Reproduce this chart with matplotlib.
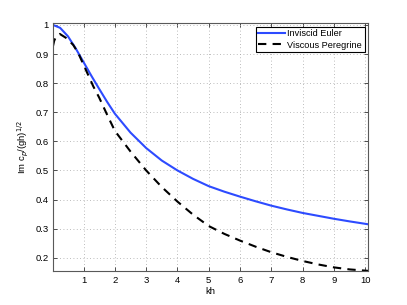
import matplotlib
matplotlib.use("Agg")
import matplotlib.pyplot as plt

plt.rcParams['font.family'] = ['Liberation Sans', 'DejaVu Sans']

# Data
kh_euler = [0.02, 0.25, 0.5, 0.75, 1.0, 1.25, 1.5, 1.75, 2.0, 2.5, 3.0, 3.5, 4.0,
            4.5, 5.0, 5.5, 6.0, 6.5, 7.0, 7.5, 8.0, 8.5, 9.0, 9.5, 10.1]
c_euler = [1.0, 0.99, 0.961, 0.919, 0.872, 0.825, 0.78, 0.736, 0.695, 0.63, 0.577,
           0.534, 0.5, 0.471, 0.446, 0.427, 0.41, 0.394, 0.379, 0.366, 0.354,
           0.344, 0.334, 0.325, 0.315]

kh_peregrine = [0.02, 0.06, 0.12, 0.24, 0.46, 0.67, 0.83, 1.0, 1.31, 1.5, 1.75,
                2.0, 2.5, 3.0, 3.5, 4.0, 4.5, 5.0, 5.5, 6.0, 6.5, 7.0, 7.5, 8.0,
                8.5, 9.0, 9.5, 10.1]
c_peregrine = [0.926, 0.945, 0.960, 0.969, 0.954, 0.931, 0.903, 0.863, 0.789,
               0.750, 0.692, 0.636, 0.565, 0.500, 0.443, 0.393, 0.348, 0.309,
               0.282, 0.259, 0.238, 0.219, 0.203, 0.189, 0.177, 0.167, 0.160,
               0.155]

x_ticks = [1, 2, 3, 4, 5, 6, 7, 8, 9, 10]
y_ticks = [0.2, 0.3, 0.4, 0.5, 0.6, 0.7, 0.8, 0.9, 1.0]
y_ticklabels = ['0.2', '0.3', '0.4', '0.5', '0.6', '0.7', '0.8', '0.9', '1']

fig = plt.figure(figsize=(4.07, 3.05), dpi=100)
ax = fig.add_axes([0.13, 0.11, 0.775, 0.815])

ax.plot(kh_euler, c_euler, color='#2d4bff', lw=1.5, label='Inviscid Euler')
ax.plot(kh_peregrine, c_peregrine, color='black', lw=1.5, ls=(0, (4, 3)),
        label='Viscous Peregrine')

ax.set_xlim(0.02, 10.1)
ax.set_ylim(0.153, 1.007)
ax.set_xticks(x_ticks)
ax.set_yticks(y_ticks)
ax.set_yticklabels(y_ticklabels)

ax.grid(True, color='0.65', ls=(0, (1, 3)), lw=0.6)
ax.tick_params(direction='in', top=True, right=True, labelsize=6.8, length=3,
               width=0.6, color='0.2', pad=3)
for s in ax.spines.values():
    s.set_color('0.35')
    s.set_linewidth(0.8)

ax.set_xlabel('kh', fontsize=6.8, labelpad=2)
ax.set_ylabel('Im c$_p$/(gh)$^{1/2}$', fontsize=6.8, labelpad=4)

leg = ax.legend(loc='upper right', fontsize=6.6, fancybox=False, framealpha=1,
                edgecolor='black', handlelength=2.9, handletextpad=0.25,
                borderpad=0.3, labelspacing=0.25, borderaxespad=0.4)
leg.get_frame().set_linewidth(0.8)

fig.savefig('out.png', dpi=100)
